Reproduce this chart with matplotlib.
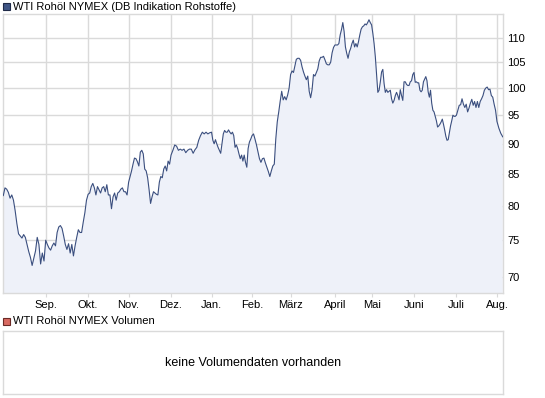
import numpy as np
import pandas as pd
import matplotlib
matplotlib.use('Agg')
import matplotlib.pyplot as plt
from matplotlib.patches import Rectangle
from matplotlib.ticker import NullLocator

# Schlusskurse je Monat
aug_10 = [81.6, 82.8, 82.6, 82.1, 81.2, 81.7, 80.9, 79.3, 77.4, 75.9, 75.6, 75.3,
          75.8, 75.4, 74.4, 73.4, 72.6, 71.5, 72.5, 73.5, 75.4, 74.4, 71.7, 73.2, 72.1]
sep_10 = [75.0, 74.4, 73.9, 73.6, 74.2, 74.6, 74.2, 76.1, 76.9, 77.1, 76.7, 75.6, 74.4,
          73.7, 74.5, 73.2, 74.4, 72.8, 74.2, 75.4, 76.5, 76.1, 76.1, 77.6, 79.0, 80.9]
okt_10 = [81.8, 82.0, 83.0, 83.5, 82.8, 81.7, 83.0, 82.5, 82.0, 82.8, 83.0, 82.2, 83.3,
          81.7, 81.7, 79.6, 81.4, 82.0, 80.9, 82.0, 82.2, 82.6, 82.8, 82.2, 82.2, 81.7]
nov_10 = [83.7, 84.6, 85.5, 86.6, 87.6, 87.5, 87.0, 86.3, 88.6, 88.9, 88.3, 85.8, 85.5,
          84.4, 82.5, 80.4, 81.4, 82.2, 82.0, 81.8, 81.7, 83.7, 84.6, 84.4, 85.8, 86.3,
          85.5, 87.1, 86.6]
dez_10 = [88.1, 88.9, 89.8, 89.6, 88.9, 89.1, 88.9, 89.1, 88.5, 88.9, 89.1, 89.1, 88.4,
          89.0, 89.4, 90.6, 91.4, 92.0, 91.7, 92.0, 91.7, 91.9]
jan_11 = [92.0, 90.6, 90.0, 90.7, 90.0, 89.4, 88.9, 88.4, 90.0, 91.7, 92.3, 92.0, 92.0,
          92.4, 92.0, 91.7, 92.0, 91.4, 89.4, 89.8, 89.2, 88.3, 87.5, 88.1, 87.1, 88.1,
          86.9, 86.1, 89.2, 90.3, 90.8]
feb_11 = [91.4, 91.7, 90.8, 89.8, 88.6, 87.5, 86.9, 87.5, 87.6, 86.8, 86.1, 85.4, 84.6,
          85.5, 86.3, 86.6, 90.8, 93.8, 95.6, 97.6, 99.4, 97.8, 98.4, 97.8, 98.7, 100.0]
mar_11 = [102.6, 103.3, 103.0, 104.3, 105.6, 105.8, 105.8, 105.4, 104.1, 103.1, 102.3,
          101.6, 102.3, 99.4, 98.2, 99.7, 102.6, 102.3, 103.0, 103.7, 105.3, 106.0,
          106.0, 106.2, 105.5, 104.7, 104.5, 104.5, 105.0, 106.9, 108.0]
apr_11 = [108.5, 108.5, 108.5, 108.8, 110.6, 111.7, 113.2, 111.3, 108.1, 106.8, 105.8,
          107.1, 107.8, 108.8, 109.5, 108.1, 108.8, 108.1, 109.2, 110.6, 111.8, 112.3,
          112.5, 112.9, 112.7, 113.2, 113.8, 113.2]
mai_11 = [112.7, 110.9, 108.8, 106.1, 102.7, 99.2, 99.6, 101.2, 103.1, 103.6, 100.9,
          99.2, 99.7, 99.2, 99.4, 99.6, 98.0, 97.2, 97.7, 98.6, 99.2, 98.6, 97.8, 99.7,
          98.6, 97.7, 101.2, 101.2, 100.7, 100.5, 100.5, 101.2, 101.4, 102.6]
jun_11 = [103.0, 101.1, 101.2, 101.0, 101.0, 99.6, 99.3, 99.6, 101.2, 101.7, 102.2,
          101.4, 99.3, 98.3, 99.6, 97.2, 95.9, 95.6, 94.8, 94.0, 92.9, 93.1, 93.4, 93.8,
          94.3, 93.4, 92.4, 91.3, 90.6, 90.7, 91.9, 93.1, 94.0, 95.0, 94.8, 94.8]
jul_11 = [95.0, 95.9, 96.8, 96.9, 98.0, 97.0, 96.4, 97.0, 95.6, 96.3, 97.2, 97.9, 96.8,
          97.5, 96.4, 97.5, 96.4, 97.5, 98.0, 98.6, 99.6, 100.0, 100.2, 99.7, 99.8, 98.6,
          98.3, 97.0, 95.9]
aug_11 = [93.9, 92.7, 91.8, 91.2]

monthly = [aug_10, sep_10, okt_10, nov_10, dez_10, jan_11, feb_11,
           mar_11, apr_11, mai_11, jun_11, jul_11, aug_11]
month_labels = ['Sep.', 'Okt.', 'Nov.', 'Dez.', 'Jan.', 'Feb.', 'März',
                'April', 'Mai', 'Juni', 'Juli', 'Aug.']
y_ticks = [70, 75, 80, 85, 90, 95, 100, 105, 110]
holidays = ['2010-12-24', '2010-12-31', '2011-04-22', '2011-04-25']

title = 'WTI Rohöl NYMEX (DB Indikation Rohstoffe)'
vol_title = 'WTI Rohöl NYMEX Volumen'
vol_text = 'keine Volumendaten vorhanden'

LINE = '#3b4f7f'
FILL = '#eef1f9'
GRID = '#dadada'

plt.rcParams['font.family'] = ['Liberation Sans', 'DejaVu Sans']

# Handelstage -> x-Index, jeder Monat gleichmaessig ueber seine Tage verteilt
days = pd.bdate_range('2010-08-02', '2011-08-04', freq='C', holidays=holidays)
periods = days.to_period('M')
starts = [int(np.argmax(periods == p)) for p in periods.unique()]
ends = starts[1:] + [len(days)]
x = np.concatenate([np.linspace(s, e, len(v), endpoint=False)
                    for s, e, v in zip(starts, ends, monthly)])
y = np.concatenate(monthly)

W, H = 545, 398
fig = plt.figure(figsize=(W / 100, H / 100), dpi=100)

def fx(px):
    return px / W

def fy(py):
    return 1 - py / H

ax = fig.add_axes([fx(2.8), fy(293.3), fx(503.3 - 2.8), (293.3 - 13.9) / H])
ax.fill_between(x, y, 50, color=FILL, lw=0, zorder=1)
ax.plot(x, y, color=LINE, lw=0.8, zorder=3)
ax.set_yscale('log')
ax.set_ylim(67.83, 115.07)
ax.set_xlim(-0.25, len(days) - 1 + 0.3)
ax.set_yticks(y_ticks)
ax.set_yticklabels([str(t) for t in y_ticks])
ax.yaxis.set_minor_locator(NullLocator())
ax.yaxis.tick_right()
ax.set_xticks(starts[1:])
ax.set_xticklabels(month_labels)
ax.grid(True, color=GRID, lw=1, zorder=0)
ax.set_axisbelow(True)
for sp in ax.spines.values():
    sp.set_color(GRID)
    sp.set_linewidth(1)
ax.tick_params(axis='x', length=3, color=GRID, labelsize=8, pad=2)
ax.tick_params(axis='y', length=0, labelsize=8, pad=3)

# Legenden-Kaestchen oben
fig.patches.append(Rectangle((fx(2.5), fy(10)), fx(7), 7 / H, transform=fig.transFigure,
                             facecolor='#3f5585', edgecolor='#1f2a48', lw=0.8))
fig.text(fx(13), fy(6.5), title, fontsize=8, va='center', ha='left')

fig.patches.append(Rectangle((fx(2.5), fy(325)), fx(7), 7 / H, transform=fig.transFigure,
                             facecolor='#d96a62', edgecolor='#6b2a26', lw=0.8))
fig.text(fx(13), fy(321.5), vol_title, fontsize=8, va='center', ha='left')

# Volumenbereich ohne Daten
vax = fig.add_axes([fx(2.8), fy(394), fx(503.3 - 2.8), (394 - 331.4) / H])
vax.set_xticks([])
vax.set_yticks([])
for sp in vax.spines.values():
    sp.set_color(GRID)
    sp.set_linewidth(1)
vax.text(0.5, 0.5, vol_text, transform=vax.transAxes, ha='center', va='center',
         fontsize=9)

fig.savefig('out.png', dpi=100)
